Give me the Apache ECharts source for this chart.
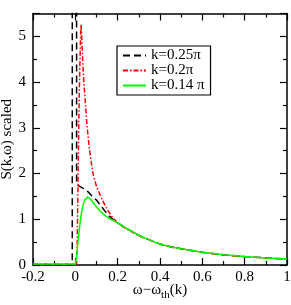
<!DOCTYPE html>
<html>
<head>
<meta charset="utf-8">
<script src="https://cdn.jsdelivr.net/npm/echarts@6/dist/echarts.min.js"></script>
<style>html,body{margin:0;padding:0;background:#fff}#c{width:291px;height:305px}</style>
</head>
<body>
<div id="c"></div>
<script>
const seriesNames = ['k=0.25π', 'k=0.2π', 'k=0.14 π'];
const blackData = [[-0.2,0],[-0.0145,0],[-0.014,20],[0.0055,20],[0.006,1.82],[0.01,1.75],[0.02,1.72],[0.04,1.67],[0.06,1.6],[0.08,1.5],[0.1,1.42],[0.12,1.3],[0.14,1.18],[0.16,1.07],[0.18,0.99],[0.2,0.92],[0.25,0.78],[0.3,0.65],[0.35,0.55],[0.4,0.46],[0.45,0.4],[0.5,0.355],[0.6,0.28],[0.7,0.225],[0.8,0.185],[0.9,0.155],[1.0,0.13]];
const redData = [[-0.2,0.02],[0.006,0.02],[0.008,0.3],[0.011,1.2],[0.014,2.3],[0.017,3.3],[0.021,4.3],[0.025,5.05],[0.027,5.26],[0.03,5.0],[0.035,4.45],[0.04,4.0],[0.046,3.65],[0.055,3.05],[0.065,2.6],[0.075,2.25],[0.085,1.97],[0.1,1.72],[0.125,1.45],[0.15,1.22],[0.172,1.06],[0.196,0.94],[0.22,0.85],[0.25,0.77],[0.3,0.64],[0.35,0.545],[0.4,0.455],[0.45,0.395],[0.5,0.35],[0.6,0.275],[0.7,0.22],[0.8,0.18],[0.9,0.15],[1.0,0.125]];
const greenData = [[-0.2,0.02],[0,0.02],[0.004,0.12],[0.008,0.3],[0.012,0.48],[0.016,0.65],[0.02,0.82],[0.025,1.02],[0.03,1.17],[0.035,1.28],[0.04,1.36],[0.045,1.42],[0.05,1.46],[0.057,1.485],[0.064,1.475],[0.072,1.44],[0.08,1.39],[0.09,1.33],[0.1,1.27],[0.115,1.19],[0.13,1.12],[0.15,1.05],[0.175,0.98],[0.2,0.92],[0.25,0.78],[0.3,0.65],[0.35,0.55],[0.4,0.46],[0.45,0.4],[0.5,0.355],[0.6,0.28],[0.7,0.225],[0.8,0.185],[0.9,0.155],[1.0,0.13]];
const xRange = [-0.2, 1];
const yRange = [0, 5.5];

const font = 'Liberation Serif';
const axisCommon = {
  axisLine: {show: true, onZero: false, lineStyle: {color: '#000', width: 1.5}},
  axisTick: {show: true, inside: true, length: 7, lineStyle: {color: '#000', width: 1.2}},
  minorTick: {show: true, splitNumber: 2, length: 4, lineStyle: {color: '#000', width: 1.2}},
  splitLine: {show: false},
  minorSplitLine: {show: false}
};
const chart = echarts.init(document.getElementById('c'), null, {renderer: 'canvas'});
chart.setOption({
  animation: false,
  backgroundColor: '#fff',
  grid: {left: 33, right: 4, top: 13.5, bottom: 40, containLabel: false, outerBoundsMode: 'none'},
  legend: {
    orient: 'vertical', left: 117, top: 46,
    data: seriesNames,
    itemWidth: 23, itemHeight: 15, itemGap: 0,
    padding: [2, 6, 2, 5],
    borderColor: '#000', borderWidth: 1.2, borderRadius: 0,
    backgroundColor: '#fff',
    itemStyle: {opacity: 0},
    textStyle: {fontFamily: font, fontSize: 15, color: '#000', lineHeight: 15}
  },
  xAxis: [
    Object.assign({}, axisCommon, {
      type: 'value', min: xRange[0], max: xRange[1], interval: 0.2, position: 'bottom',
      axisLabel: {show: true, fontFamily: font, fontSize: 15, color: '#000', margin: 5},
      name: '{a|ω−ω}{b|th}{a|(k)}', nameLocation: 'middle', nameGap: 18, nameMoveOverlap: false,
      nameTextStyle: {
        rich: {
          a: {fontFamily: font, fontSize: 15, color: '#000', verticalAlign: 'top'},
          b: {fontFamily: font, fontSize: 11, color: '#000', verticalAlign: 'top', padding: [7, 0, 0, 0]}
        }
      }
    }),
    Object.assign({}, axisCommon, {
      type: 'value', min: xRange[0], max: xRange[1], interval: 0.2, position: 'top',
      axisLabel: {show: false}
    })
  ],
  yAxis: [
    Object.assign({}, axisCommon, {
      type: 'value', min: yRange[0], max: yRange[1], interval: 1, position: 'left',
      axisLabel: {show: true, fontFamily: font, fontSize: 15, color: '#000', margin: 7, showMaxLabel: false},
      name: 'S(k,ω) scaled', nameLocation: 'middle', nameGap: 18, nameMoveOverlap: false,
      nameTextStyle: {fontFamily: font, fontSize: 15, color: '#000'}
    }),
    Object.assign({}, axisCommon, {
      type: 'value', min: yRange[0], max: yRange[1], interval: 1, position: 'right',
      axisLabel: {show: false}
    })
  ],
  series: [
    {name: seriesNames[0], type: 'line', data: blackData, symbol: 'none', clip: true,
     lineStyle: {color: '#000', width: 1.5, type: [7, 4]}, itemStyle: {color: '#000'}},
    {name: seriesNames[1], type: 'line', data: redData, symbol: 'none', clip: true,
     lineStyle: {color: '#ff0000', width: 1.5, type: [5, 2, 1.5, 2]}, itemStyle: {color: '#ff0000'}},
    {name: seriesNames[2], type: 'line', data: greenData, symbol: 'none', clip: true,
     lineStyle: {color: '#00ff00', width: 1.5}, itemStyle: {color: '#00ff00'}}
  ]
});
</script>
</body>
</html>
